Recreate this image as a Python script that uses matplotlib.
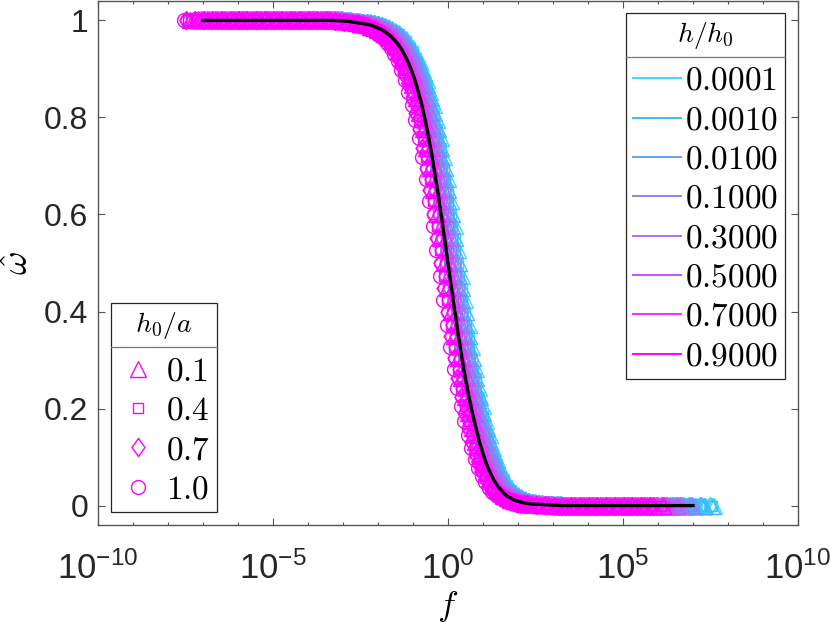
import numpy as np
import matplotlib
matplotlib.use('Agg')
import matplotlib.pyplot as plt
import matplotlib.ticker as mticker
from matplotlib.lines import Line2D
from matplotlib.font_manager import FontProperties

plt.rcParams['font.family'] = ['Liberation Sans', 'DejaVu Sans']
plt.rcParams['mathtext.fontset'] = 'custom'
plt.rcParams['mathtext.rm'] = 'Liberation Sans'

# master curve (log10 f, omega hat)
log_f = [-7.75, -7.5, -7.25, -7.0, -6.75, -6.5, -6.25, -6.0, -5.75, -5.5,
         -5.25, -5.0, -4.75, -4.5, -4.25, -4.0, -3.75, -3.5, -3.25, -3.0,
         -2.75,
         -2.5, -2.45, -2.4, -2.35, -2.3, -2.25, -2.2, -2.15, -2.1, -2.05,
         -2.0, -1.95, -1.9, -1.85, -1.8, -1.75, -1.7, -1.65, -1.6, -1.55,
         -1.5, -1.45, -1.4, -1.35, -1.3, -1.25, -1.2, -1.15, -1.1, -1.05,
         -1.0, -0.95, -0.9, -0.85, -0.8, -0.75, -0.7, -0.65, -0.6, -0.55,
         -0.5, -0.45, -0.4, -0.35, -0.3, -0.25, -0.2, -0.15, -0.1, -0.05,
         0.0, 0.05, 0.1, 0.15, 0.2, 0.25, 0.3, 0.35, 0.4, 0.45,
         0.5, 0.55, 0.6, 0.65, 0.7, 0.75, 0.8, 0.85, 0.9, 0.95,
         1.0, 1.05, 1.1, 1.15, 1.2, 1.25, 1.3, 1.35, 1.4, 1.45,
         1.5, 1.55, 1.6, 1.65, 1.7, 1.75, 1.8, 1.85, 1.9, 1.95,
         2.0, 2.05, 2.1, 2.15, 2.2, 2.25, 2.3, 2.35, 2.4, 2.45,
         2.5,
         2.75, 3.0, 3.25, 3.5, 3.75, 4.0, 4.25, 4.5, 4.75, 5.0,
         5.25, 5.5, 5.75, 6.0, 6.25, 6.5, 6.75, 7.0, 7.25, 7.5,
         7.75, 8.0]
omega = [1.0, 1.0, 1.0, 1.0, 1.0, 1.0, 1.0, 1.0, 1.0, 1.0,
         1.0, 1.0, 1.0, 1.0, 1.0, 1.0, 1.0, 1.0, 1.0, 0.999,
         0.997,
         0.994, 0.994, 0.993, 0.992, 0.992, 0.991, 0.990, 0.989, 0.987, 0.986,
         0.984, 0.983, 0.981, 0.979, 0.977, 0.974, 0.971, 0.968, 0.965, 0.961,
         0.957, 0.953, 0.948, 0.943, 0.937, 0.930, 0.923, 0.916, 0.907, 0.898,
         0.888, 0.878, 0.866, 0.853, 0.840, 0.826, 0.810, 0.794, 0.776, 0.758,
         0.738, 0.718, 0.696, 0.674, 0.651, 0.627, 0.602, 0.577, 0.552, 0.526,
         0.500, 0.474, 0.448, 0.423, 0.398, 0.373, 0.349, 0.326, 0.304, 0.282,
         0.262, 0.242, 0.224, 0.206, 0.190, 0.174, 0.160, 0.145, 0.131, 0.119,
         0.107, 0.096, 0.086, 0.077, 0.069, 0.061, 0.054, 0.048, 0.042, 0.037,
         0.033, 0.029, 0.025, 0.022, 0.019, 0.017, 0.015, 0.013, 0.011, 0.010,
         0.009, 0.008, 0.007, 0.006, 0.005, 0.005, 0.004, 0.004, 0.003, 0.003,
         0.003,
         0.002, 0.001, 0.0, 0.0, 0.0, 0.0, 0.0, 0.0, 0.0, 0.0,
         0.0, 0.0, 0.0, 0.0, 0.0, 0.0, 0.0, 0.0, 0.0, 0.0,
         0.0, 0.0]
fit_lo, fit_hi = -7.0, 7.0
fine_lo, fine_hi = -2.5, 2.5   # densely read part, split between series

# h/h0 series
h_labels = ['0.0001', '0.0010', '0.0100', '0.1000', '0.3000', '0.5000', '0.7000', '0.9000']
h_colors = ['#38dcff', '#38bff5', '#64a2ff', '#8585f5', '#a96ffb', '#c653f2', '#ec34fc', '#ff00ff']
h_shift = [0.26, 0.22, 0.17, 0.11, 0.04, -0.04, -0.12, -0.20]
h_lo = [-6.0, -6.3, -6.6, -6.8, -7.0, -7.2, -7.3, -7.4]
h_hi = [7.6, 7.4, 7.1, 6.8, 6.6, 6.4, 6.2, 6.0]

# h0/a series
a_labels = ['0.1', '0.4', '0.7', '1.0']
diamond = [(0, 1), (0.72, 0), (0, -1), (-0.72, 0), (0, 1)]
a_markers = ['^', 's', diamond, 'o']
a_sizes = [12, 7, 13, 10]
a_shift = [0.08, 0.03, -0.03, -0.08]
a_lo = [0.0, -0.05, -0.1, -0.2]
a_hi = [0.2, 0.1, 0.0, -0.1]

fig = plt.figure(figsize=(8.3, 6.23), dpi=100)
ax = fig.add_axes([98/830, 1-525/623, 700/830, 524/623])

lf = np.array(log_f)
om = np.array(omega)
fine = (lf > fine_lo - 1e-9) & (lf < fine_hi + 1e-9)
k = np.arange(len(lf))
for i, col in enumerate(h_colors):
    for j, mk in enumerate(a_markers):
        x = lf + h_shift[i] + a_shift[j]
        keep = (x >= h_lo[i] + a_lo[j]) & (x <= h_hi[i] + a_hi[j])
        keep &= ~fine | ((k + i + j) % 2 == 0)
        ax.plot(10.0**x[keep], om[keep], linestyle='none', marker=mk,
                markersize=a_sizes[j], mfc='none', mec=col, mew=1.0)

fit = (lf >= fit_lo) & (lf <= fit_hi)
ax.plot(10.0**lf[fit], om[fit], color='k', lw=2.4, zorder=5)

ax.set_xscale('log')
ax.set_xlim(1e-10, 1e10)
ax.set_ylim(-0.04, 1.04)
ax.set_xticks([1e-10, 1e-5, 1, 1e5, 1e10])
ax.set_xticks([10.0**k for k in range(-10, 11)], minor=True)
ax.xaxis.set_major_formatter(mticker.FuncFormatter(
    lambda v, p: r'$\mathregular{10^{%d}}$' % round(np.log10(v))))
ax.xaxis.set_minor_formatter(mticker.NullFormatter())
ax.set_yticks([0, 0.2, 0.4, 0.6, 0.8, 1])
ax.yaxis.set_major_formatter(mticker.FuncFormatter(lambda v, p: '%g' % v))

ax.tick_params(which='both', direction='in', top=True, right=True, color='#555555', labelcolor='#262626')
ax.tick_params(which='major', length=5, width=0.8)
ax.tick_params(which='minor', length=2.5, width=0.8)
ax.tick_params(axis='y', labelsize=23, pad=7)
ax.tick_params(axis='x', labelsize=25, pad=19)
for s in ax.spines.values():
    s.set_color('#555555')
    s.set_linewidth(1.0)

ax.set_ylabel(r'$\hat{\omega}$', fontsize=26, math_fontfamily='cm')
ax.yaxis.set_label_coords(-0.088, 0.5)
ax.set_xlabel(r'$f$', fontsize=25, math_fontfamily='cm')
ax.xaxis.set_label_coords(0.5, -0.122)

fp = FontProperties(size=24, math_fontfamily='cm')
tp = FontProperties(size=20, math_fontfamily='cm')
h_handles = [Line2D([], [], color=c, lw=1.4) for c in h_colors]
leg1 = ax.legend(h_handles, [r'$\mathrm{%s}$' % l for l in h_labels], loc='upper right',
                 bbox_to_anchor=(0.981, 0.977), borderaxespad=0,
                 title='$h/h_0$', prop=fp, title_fontproperties=tp,
                 fancybox=False, edgecolor='#262626', framealpha=1,
                 handlelength=1.45, handletextpad=0.12, labelspacing=0.25, borderpad=0.2)
leg1.get_frame().set_linewidth(0.9)
leg1._legend_box.sep = 11
ax.add_artist(leg1)

a_handles = [Line2D([], [], linestyle='none', marker=m, markersize=s, mfc='none', mec='#ff00ff', mew=1.0)
             for m, s in zip(a_markers, a_sizes)]
leg2 = ax.legend(a_handles, [r'$\mathrm{%s}$' % l for l in a_labels], loc='lower left',
                 bbox_to_anchor=(0.0186, 0.0248), borderaxespad=0,
                 title='$h_0/a$', prop=fp, title_fontproperties=tp,
                 fancybox=False, edgecolor='#262626', framealpha=1,
                 handlelength=1.2, handletextpad=0.25, labelspacing=0.25, borderpad=0.2)
leg2.get_frame().set_linewidth(0.9)
leg2._legend_box.sep = 11

# separator line under each legend title
fig.canvas.draw()
rend = fig.canvas.get_renderer()
inv = fig.transFigure.inverted()
for leg in (leg1, leg2):
    tb = leg.get_title().get_window_extent(rend)
    fb = leg.get_frame().get_window_extent(rend)
    y = tb.y0 - 6
    (x0, y0), (x1, y1) = inv.transform([(fb.x0, y), (fb.x1, y)])
    fig.add_artist(Line2D([x0, x1], [y0, y1], color='#777777', lw=0.9, zorder=10))

fig.savefig('out.png', dpi=100)
